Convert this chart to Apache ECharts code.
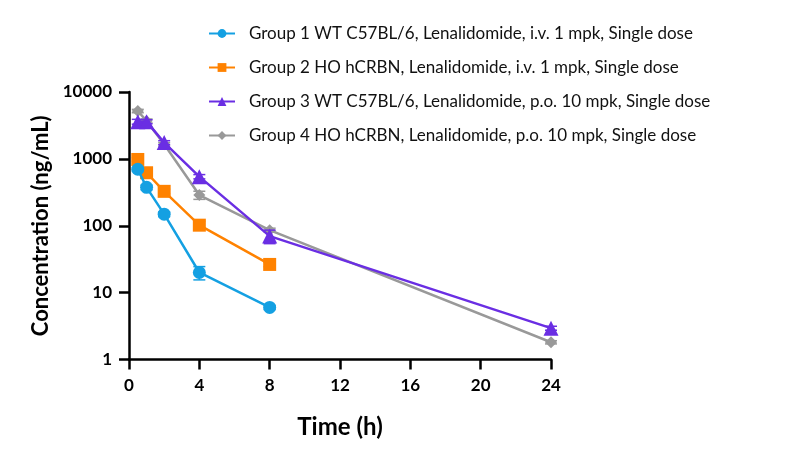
<!DOCTYPE html>
<html><head><meta charset="utf-8">
<script src="https://cdn.jsdelivr.net/npm/echarts@6/dist/echarts.min.js"></script>
<style>html,body{margin:0;padding:0;background:#fff}#c{width:796px;height:460px}</style>
</head><body><div id="c"></div>
<script>
const times = [0.5, 1, 2, 4, 8];
const times24 = [0.5, 1, 2, 4, 8, 24];
const names = [
  'Group 1 WT C57BL/6, Lenalidomide, i.v. 1 mpk, Single dose',
  'Group 2 HO hCRBN, Lenalidomide, i.v. 1 mpk, Single dose',
  'Group 3 WT C57BL/6, Lenalidomide, p.o. 10 mpk, Single dose',
  'Group 4 HO hCRBN, Lenalidomide, p.o. 10 mpk, Single dose'
];
const g1 = [700, 375, 149, 20, 6.0];
const g1sd = [40, 30, 12, 4.5, 0.4];
const g2 = [980, 620, 327, 102, 26.4];
const g2sd = [60, 40, 25, 15, 2];
const g3 = [3600, 3600, 1750, 542, 70, 2.94];
const g3sd = [300, 250, 120, 40, 16, 0.2];
const g4 = [5200, 3700, 1650, 288, 86, 1.81];
const g4sd = [300, 250, 100, 40, 6, 0.1];
const xTicks = [0, 4, 8, 12, 16, 20, 24];
const yTicks = [1, 10, 100, 1000, 10000];

const colors = ['#14A0E2', '#FF8200', '#6A2EE3', '#999999'];
const symbols = ['circle', 'rect', 'triangle', 'diamond'];
const symSizes = [13, 13, 15, 12];
const sets = [[times, g1, g1sd], [times, g2, g2sd], [times24, g3, g3sd], [times24, g4, g4sd]];

const FONT = 'Lato';
const series = [];
for (let i = 3; i >= 0; i--) {
  const [t, v, sd] = sets[i];
  series.push({
    type: 'custom', name: names[i] + '_err', silent: true, z: 2 + (3 - i) * 2,
    data: t.map((x, k) => [x, Math.max(v[k] - sd[k], 0.0001), v[k] + sd[k]]),
    renderItem: function (params, api) {
      const x = api.value(0);
      const lo = api.coord([x, api.value(1)]);
      const hi = api.coord([x, api.value(2)]);
      const w = 6;
      const st = { stroke: colors[i], lineWidth: 1.5 };
      return { type: 'group', children: [
        { type: 'line', shape: { x1: lo[0], y1: lo[1], x2: hi[0], y2: hi[1] }, style: st },
        { type: 'line', shape: { x1: lo[0] - w, y1: lo[1], x2: lo[0] + w, y2: lo[1] }, style: st },
        { type: 'line', shape: { x1: hi[0] - w, y1: hi[1], x2: hi[0] + w, y2: hi[1] }, style: st }
      ]};
    }
  });
  series.push({
    type: 'line', name: names[i], z: 3 + (3 - i) * 2,
    data: t.map((x, k) => [x, v[k]]),
    symbol: symbols[i], symbolSize: symSizes[i], showSymbol: true,
    lineStyle: { color: colors[i], width: 2.5 },
    itemStyle: { color: colors[i] },
    animation: false
  });
}

const chart = echarts.init(document.getElementById('c'), null, { renderer: 'canvas' });
chart.setOption({
  animation: false,
  backgroundColor: '#fff',
  grid: { left: 129, right: 245, top: 92, bottom: 100.5, containLabel: false },
  legend: {
    data: names,
    orient: 'vertical', left: 208, top: 25, padding: 0,
    itemWidth: 26, itemHeight: 11, itemGap: 17,
    textStyle: { fontFamily: FONT, fontSize: 17, color: '#111', padding: [0, 0, 0, 9] },
    selectedMode: false
  },
  xAxis: {
    type: 'value', min: 0, max: 24, interval: 4,
    name: 'Time (h)', nameLocation: 'middle', nameGap: 56,
    nameTextStyle: { fontFamily: FONT, fontSize: 24, fontWeight: 'bold', color: '#000' },
    axisLine: { show: true, lineStyle: { color: '#000', width: 2.5 } },
    axisTick: { show: true, length: 10, lineStyle: { color: '#000', width: 2.5 } },
    axisLabel: { fontFamily: FONT, fontSize: 17, fontWeight: 'bold', color: '#000', margin: 18,
      formatter: v => xTicks.includes(v) ? String(v) : '' },
    splitLine: { show: false }
  },
  yAxis: {
    type: 'log', logBase: 10, min: 1, max: 10000,
    name: 'Concentration (ng/mL)', nameLocation: 'middle', nameGap: 77, nameRotate: 90,
    nameTextStyle: { fontFamily: FONT, fontSize: 22, fontWeight: 'bold', color: '#000' },
    axisLine: { show: true, lineStyle: { color: '#000', width: 2.5 } },
    axisTick: { show: true, length: 10, lineStyle: { color: '#000', width: 2.5 } },
    minorTick: { show: false },
    axisLabel: { fontFamily: FONT, fontSize: 17, fontWeight: 'bold', color: '#000', margin: 17,
      formatter: v => yTicks.includes(Math.round(v)) ? String(Math.round(v)) : '' },
    splitLine: { show: false }
  },
  series: series
});
</script></body></html>
